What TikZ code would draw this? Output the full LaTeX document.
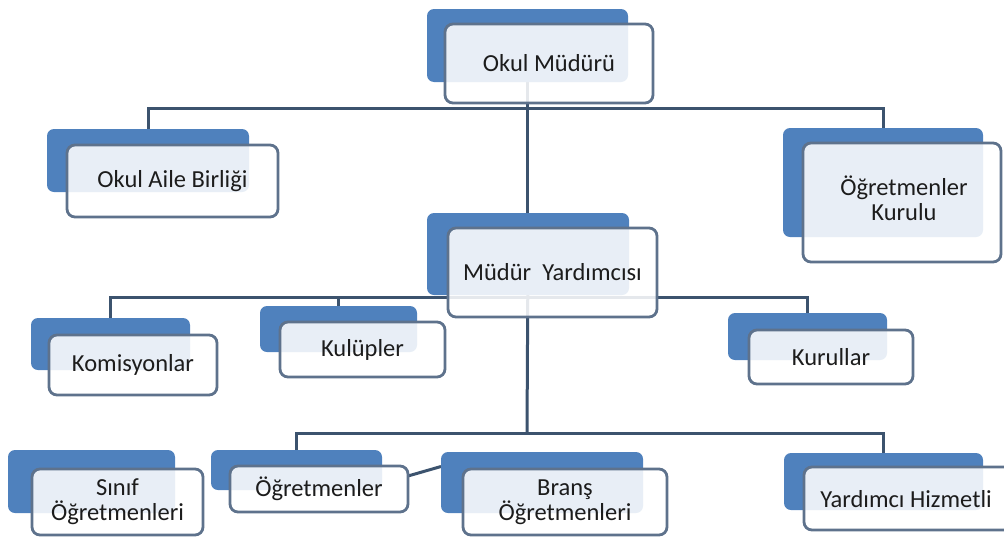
\documentclass[tikz,border=0pt]{standalone}
\usepackage{fontspec}
\setmainfont{Carlito}
\usetikzlibrary{positioning}
\pgfdeclarelayer{background}
\pgfsetlayers{background,main}
\definecolor{backblue}{RGB}{79,129,189}
\definecolor{frontline}{RGB}{94,114,140}
\definecolor{linkcol}{RGB}{60,83,110}
\definecolor{textcol}{RGB}{28,28,28}
\tikzset{
  backbox/.style={fill=backblue, rounded corners=7pt, inner sep=0pt, outer sep=0pt},
  frontbox/.style={draw=frontline, line width=2.8pt, fill=white, fill opacity=0.87,
    text opacity=1, text=textcol, rounded corners=8pt, inner sep=0pt, outer sep=0pt,
    align=center, font=\fontsize{24.5}{25}\selectfont},
  boxtext/.style={text=textcol, font=\fontsize{24.5}{25}\selectfont},
  link/.style={draw=linkcol, line width=3pt}
}
\begin{document}
\begin{tikzpicture}[x=1pt,y=-1pt]
\useasboundingbox (0,0) rectangle (1004,536);
% top
\node[backbox, minimum width=201pt, minimum height=73pt] (mmb) at (527.5,45.5) {};
\node[frontbox, minimum width=208pt, minimum height=79pt] (mm) at (549,63.5) {Okul Müdürü};
\node[backbox, minimum width=202pt, minimum height=63pt] (oabb) at (148,160.5) {};
\node[frontbox, minimum width=211pt, minimum height=72pt] (oab) at (172.5,181) {Okul Aile Birliği};
\node[backbox, minimum width=200pt, minimum height=109pt] (okb) at (883,182.5) {};
\node[frontbox, minimum width=198pt, minimum height=119pt] (ok) at (902,202.5) {};
\node[boxtext, align=center] (okt) at (904,198) {Öğretmenler\\Kurulu};
% middle
\node[backbox, minimum width=202pt, minimum height=82pt] (myb) at (528,254) {};
\node[frontbox, minimum width=209pt, minimum height=89pt] (my) at (552.5,272.5) {Müdür\ \ Yardımcısı};
\node[backbox, minimum width=159pt, minimum height=52pt] (komb) at (110.5,344) {};
\node[frontbox, minimum width=168pt, minimum height=60pt] (kom) at (133,365) {Komisyonlar};
\node[backbox, minimum width=157pt, minimum height=46pt] (kulb) at (338.5,329) {};
\node[frontbox, minimum width=165pt, minimum height=55pt] (kul) at (362.5,349.5) {Kulüpler};
\node[backbox, minimum width=159pt, minimum height=47pt] (kurb) at (807.5,336.5) {};
\node[frontbox, minimum width=164pt, minimum height=54pt] (kur) at (831,357) {Kurullar};
% bottom
\node[backbox, minimum width=167pt, minimum height=63pt] (sinb) at (91.5,481.5) {};
\node[frontbox, minimum width=171pt, minimum height=66pt] (sin) at (117.5,502) {Sınıf\\Öğretmenleri};
\node[backbox, minimum width=171pt, minimum height=40pt] (ogrb) at (296.5,470) {};
\node[frontbox, minimum width=178pt, minimum height=46pt] (ogr) at (319,489) {Öğretmenler};
\node[backbox, minimum width=202pt, minimum height=61pt] (bransb) at (542,482.5) {};
\node[frontbox, minimum width=204pt, minimum height=66pt] (brans) at (565,502) {Branş\\Öğretmenleri};
\node[backbox, minimum width=199pt, minimum height=57pt] (yhb) at (883.5,481.5) {};
\node[frontbox, minimum width=226pt, minimum height=63pt] (yh) at (917,498.5) {};
\node[boxtext] (yht) at (906,499) {Yardımcı Hizmetli};
% connectors
\coordinate (h1) at (527,108);
\coordinate (h2) at (527,297);
\coordinate (h3) at (527,433);
\begin{pgfonlayer}{background}
\draw[link] (mmb.center) -- (mmb.center |- myb.center);
\draw[link] (oabb.north) |- (h1) -| (okb.north);
\draw[link] (komb.north) |- (h2) -| (kurb.north);
\draw[link] (kulb.north) -- (kulb.north |- h2);
\draw[link] (myb.center) -- (h3);
\draw[link] (ogrb.north) |- (h3) -| (yhb.north);
\draw[link] ([yshift=13pt]ogr.east) -- ([yshift=16pt]bransb.west);
\end{pgfonlayer}
\end{tikzpicture}
\end{document}
